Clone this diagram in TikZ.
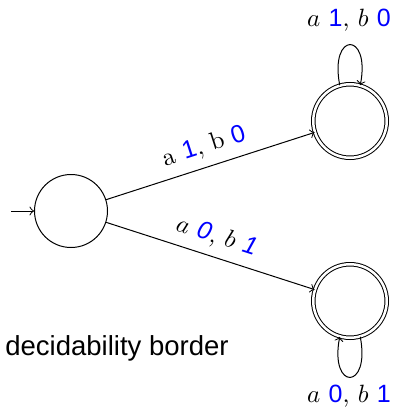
\documentclass[tikz,border=0pt]{standalone}
\usepackage{fontspec}
\newfontfamily\lsans{Liberation Sans}
\usetikzlibrary{arrows}
\definecolor{dblue}{RGB}{0,0,255}
\newcommand{\dg}[1]{\textcolor{dblue}{\lsans #1}}
\newcommand{\dgi}[1]{\textcolor{dblue}{\lsans\itshape #1}}
\begin{document}
\begin{tikzpicture}[x=0.4pt,y=-0.4pt,>=to,
  statebox/.style={circle,draw,line width=0.4pt,minimum size=29.2pt,inner sep=0pt},
  accbox/.style={statebox,double,double distance=1pt,minimum size=29.4pt},
  lbl/.style={font=\fontsize{10}{12}\selectfont}]
\useasboundingbox (0,0) rectangle (399,414);
\node[statebox] (q0) at (71,211) {};
\node[accbox] (q1) at (350,121) {};
\node[accbox] (q2) at (350,301) {};
\coordinate (init) at (11,211);
\draw[->] (init) -- (q0);
\draw[->] (q0) -- node[sloped,above,lbl] {a \dg{1}, b \dg{0}} (q1);
\draw[->] (q0) -- node[sloped,above,lbl] {$a$ \dgi{0}, $b$ \dgi{1}} (q2);
\draw[->] (q1.106) .. controls +(101:22pt) and +(79:22pt) .. (q1.74);
\draw[->] (q2.-74) .. controls +(-79:22pt) and +(-101:22pt) .. (q2.-106);
\node[lbl] (l1) at (349,20) {$a$ \dg{1}, $b$ \dg{0}};
\node[lbl] (l2) at (349,396) {$a$ \dg{0}, $b$ \dg{1}};
\node[font=\lsans\fontsize{11}{13}\selectfont] (db) at (117,348) {decidability border};
\end{tikzpicture}
\end{document}
